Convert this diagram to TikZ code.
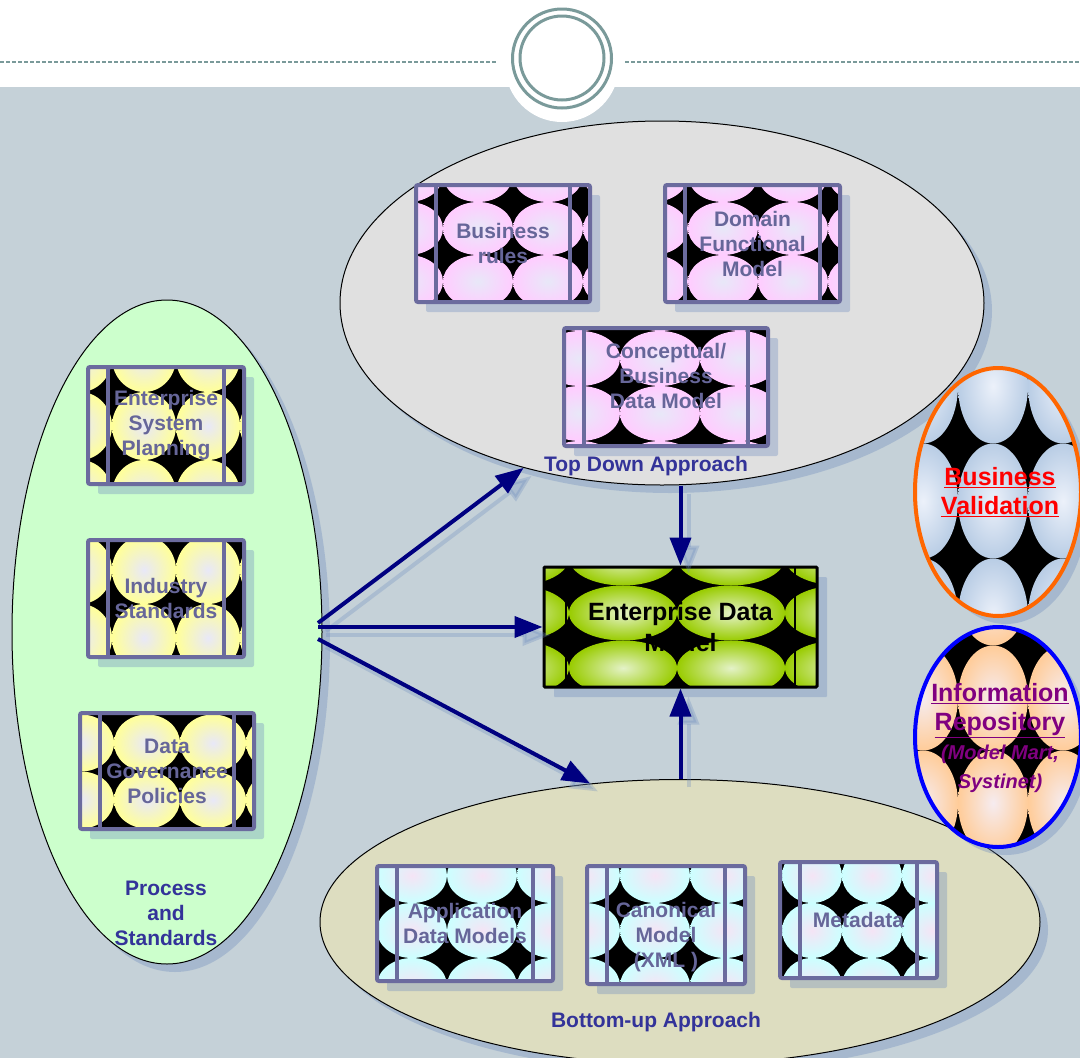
\documentclass[tikz,border=0pt]{standalone}
\usepackage{fontspec}
\setmainfont{Liberation Sans}
\usetikzlibrary{positioning,arrows.meta,shapes.geometric,shadows}

\definecolor{bgblue}{RGB}{197,209,216}
\definecolor{ringteal}{RGB}{122,154,154}
\definecolor{framecol}{RGB}{107,107,158}
\definecolor{txtcol}{RGB}{102,102,153}
\definecolor{lblblue}{RGB}{51,51,153}
\definecolor{arrnavy}{RGB}{0,0,128}
\definecolor{shadowcol}{RGB}{110,140,190}
\definecolor{topgray}{RGB}{224,224,224}
\definecolor{procgreen}{RGB}{204,255,204}
\definecolor{botkhaki}{RGB}{221,221,192}
\definecolor{tilepink}{RGB}{255,204,255}
\definecolor{tileyellow}{RGB}{255,255,153}
\definecolor{tilecyan}{RGB}{204,255,255}
\definecolor{tilegreen}{RGB}{153,204,0}
\definecolor{tileblue}{RGB}{185,205,229}
\definecolor{tileorange}{RGB}{255,204,153}
\definecolor{glowlav}{RGB}{232,232,248}
\definecolor{glowpink}{RGB}{245,228,245}
\definecolor{glowgreen}{RGB}{228,242,200}
\definecolor{glowblue}{RGB}{236,241,250}
\definecolor{gloworange}{RGB}{246,236,240}
\definecolor{valorange}{RGB}{255,102,0}
\definecolor{repopurple}{RGB}{128,0,128}

%% tiles: fill, glow, w, h, x and y of one ellipse centre from the north west corner
\newcommand{\tilefill}[6]{%
  \fill[black] (path picture bounding box.south west) rectangle (path picture bounding box.north east);
  \coordinate (tnw) at (path picture bounding box.north west);
  \pgfmathsetmacro{\rx}{#3/2}
  \pgfmathsetmacro{\ry}{#4/2}
  \foreach \i in {-1,...,3}
    \foreach \j in {-1,...,3}{
      \pgfmathsetmacro{\tx}{#5+\i*#3}
      \pgfmathsetmacro{\ty}{-(#6+\j*#4)}
      \shade[inner color=#2, outer color=#1]
        ([xshift=\tx pt, yshift=\ty pt]tnw) ellipse [x radius=\rx pt, y radius=\ry pt];
    }%
}
%% the two upright bars inside a box
\newcommand{\sidebars}[2]{%
  \draw[#1] ([xshift=#2pt]path picture bounding box.north west) -- ([xshift=#2pt]path picture bounding box.south west);
  \draw[#1] ([xshift=-#2pt]path picture bounding box.north east) -- ([xshift=-#2pt]path picture bounding box.south east);%
}

\tikzset{
  softshadow/.style={drop shadow={shadow xshift=#1, shadow yshift=-#1, fill=shadowcol, opacity=.35}},
  bigoval/.style={ellipse, draw=black, line width=1pt, inner sep=0pt, softshadow=8pt},
  boxframe/.style={rectangle, draw=framecol, line width=4pt, rounded corners=2pt, inner sep=0pt,
    align=center, text=txtcol, font=\fontsize{21}{25}\selectfont\bfseries, softshadow=10pt},
  boxtext/.style={align=center, text=txtcol, font=\fontsize{21}{25}\selectfont\bfseries, inner sep=0pt},
  pinkbox/.style n args={4}{boxframe, path picture={\tilefill{tilepink}{glowlav}{#1}{#2}{#3}{#4}\sidebars{framecol, line width=4pt}{20}}},
  yellowbox/.style n args={4}{boxframe, path picture={\tilefill{tileyellow}{glowlav}{#1}{#2}{#3}{#4}\sidebars{framecol, line width=4pt}{20}}},
  cyanbox/.style n args={4}{boxframe, path picture={\tilefill{tilecyan}{glowpink}{#1}{#2}{#3}{#4}\sidebars{framecol, line width=4pt}{20}}},
  edmbox/.style={rectangle, draw=black, line width=3pt, rounded corners=1pt, inner sep=0pt, align=center,
    font=\fontsize{25}{31}\selectfont\bfseries, softshadow=10pt,
    path picture={\tilefill{tilegreen}{glowgreen}{108}{55}{79}{46}\sidebars{black, line width=1.2pt}{22}}},
  sideoval/.style={ellipse, line width=4pt, inner sep=0pt, softshadow=8pt},
  sidetext/.style={align=center, inner sep=0pt, font=\fontsize{25}{29}\selectfont\bfseries},
  lbl/.style={text=lblblue, font=\fontsize{21}{25}\selectfont\bfseries, align=center, inner sep=0pt},
  arr/.style={arrnavy, line width=4pt, -{Triangle[length=28pt,width=21pt]}},
  arrshade/.style={shadowcol, opacity=.3, line width=4pt, -{Triangle[length=28pt,width=21pt]},
    transform canvas={xshift=8pt, yshift=-8pt}}
}

\begin{document}
\begin{tikzpicture}[x=1pt, y=-1pt]
  \useasboundingbox (0,0) rectangle (1080,1058);
  %% header and background
  \fill[white] (0,0) rectangle (1080,87);
  \fill[bgblue] (0,87) rectangle (1080,1058);
  \draw[ringteal, line width=1.5pt, dash pattern=on 4pt off 2pt] (0,62) -- (496,62);
  \draw[ringteal, line width=1.5pt, dash pattern=on 4pt off 2pt] (625,62) -- (1080,62);
  \fill[white] (562,65) circle (57);
  \draw[ringteal, line width=3pt] (562,58.5) circle (49.5);
  \draw[ringteal, line width=3pt] (562,58) circle (42);

  %% the three approach ovals
  \node[bigoval, fill=topgray, minimum width=644pt, minimum height=364pt] (topdown) at (662,303) {};
  \node[bigoval, fill=procgreen, minimum width=310pt, minimum height=664pt] (process) at (167,632) {};
  \node[bigoval, fill=botkhaki, minimum width=720pt, minimum height=285pt] (bottomup) at (680,922) {};

  \node[lbl] (tdlabel) at (646,466) {Top Down Approach};
  \node[lbl] (pslabel) at (166,913) {Process\\and\\Standards};
  \node[lbl] (bulabel) at (656,1022) {Bottom-up Approach};

  %% right ovals
  \node[sideoval, draw=valorange, minimum width=166pt, minimum height=248pt,
    path picture={\tilefill{tileblue}{glowblue}{70}{115}{8}{18}}] (bizval) at (998,492) {};
  \node[sidetext, text=red] (bizvaltxt) at (1000,492.5) {\underline{Business}\\\underline{Validation}};
  \node[sideoval, draw=blue, minimum width=166pt, minimum height=220pt,
    path picture={\tilefill{tileorange}{gloworange}{70}{105}{8}{71}}] (inforepo) at (998,737) {};
  \node[sidetext, text=repopurple] (inforepotxt) at (1000,738) {\underline{Information}\\\underline{Repository}\\
      {\fontsize{20}{25}\selectfont\itshape (Model Mart,}\\{\fontsize{20}{25}\selectfont\itshape Systinet)}};

  %% top down boxes
  \node[pinkbox={70}{53}{62}{43.5}, minimum width=174pt, minimum height=117pt] (busrules) at (503,243.5) {Business\\rules};
  \node[pinkbox={70}{53}{58}{43.5}, minimum width=175pt, minimum height=117pt] (domfunc) at (752.5,243.5) {Domain\\Functional\\Model};
  \node[pinkbox={80}{55}{16}{30.5}, minimum width=204pt, minimum height=118pt] (concept) at (666,387) {};
  \node[boxtext] (concepttxt) at (666,375.5) {Conceptual/\\Business\\Data Model};

  %% process and standards boxes
  \node[yellowbox={64}{68}{56}{59}, minimum width=156pt, minimum height=117pt] (entsys) at (166,425.5) {Enterprise\\System\\Planning};
  \node[yellowbox={64}{68}{56}{30}, minimum width=156pt, minimum height=117pt] (industry) at (166,598.5) {Industry\\Standards};
  \node[yellowbox={66}{57}{67}{30}, minimum width=174pt, minimum height=116pt] (datagov) at (167,771) {Data\\Governance\\Policies};

  %% bottom up boxes
  \node[cyanbox={70}{55}{35}{9.5}, minimum width=176pt, minimum height=115pt] (appdata) at (465,923.5) {Application\\Data Models};
  \node[cyanbox={70}{55}{68}{9.5}, minimum width=158pt, minimum height=118pt] (canonical) at (666,925) {};
  \node[boxtext] (canonicaltxt) at (666,937) {Canonical\\Model\\(XML )};
  \node[cyanbox={60}{55}{32}{13.5}, minimum width=157pt, minimum height=116pt] (metadata) at (858.5,920) {Metadata};

  %% enterprise data model
  \node[edmbox, minimum width=273pt, minimum height=120pt] (edm) at (680.5,627) {Enterprise Data\\Model};

  %% arrows
  \coordinate (fanup) at (318,623);
  \coordinate (fanmid) at (318,627);
  \coordinate (fanlow) at (318,639);
  \draw[arrshade] (fanup) -- (topdown.230);
  \draw[arrshade] (fanmid) -- (edm.west);
  \draw[arrshade] (fanlow) -- (bottomup.123);
  \draw[arrshade] (topdown.south -| edm.north) -- (edm.north);
  \draw[arrshade] (bottomup.north -| edm.south) -- (edm.south);
  \draw[arr] (fanup) -- (topdown.230);
  \draw[arr] (fanmid) -- (edm.west);
  \draw[arr] (fanlow) -- (bottomup.123);
  \draw[arr] (topdown.south -| edm.north) -- (edm.north);
  \draw[arr] (bottomup.north -| edm.south) -- (edm.south);
\end{tikzpicture}
\end{document}
